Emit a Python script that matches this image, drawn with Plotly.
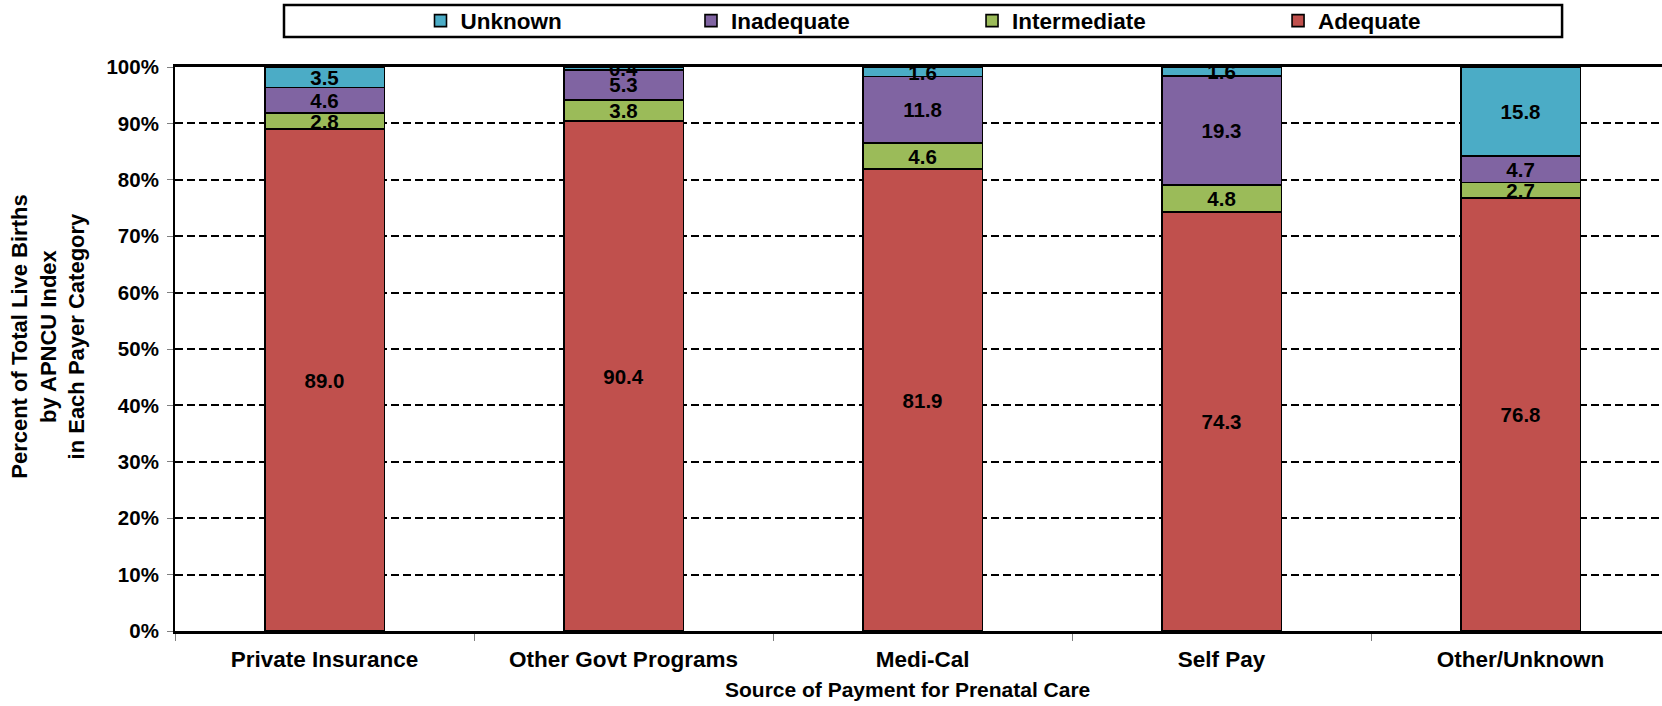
import plotly.graph_objects as go

categories = ["Private Insurance", "Other Govt Programs", "Medi-Cal", "Self Pay", "Other/Unknown"]
adequate = [89.0, 90.4, 81.9, 74.3, 76.8]
intermediate = [2.8, 3.8, 4.6, 4.8, 2.7]
inadequate = [4.6, 5.3, 11.8, 19.3, 4.7]
unknown = [3.5, 0.4, 1.6, 1.6, 15.8]

series = [
    ("Adequate", adequate, "#C0504D", "legend4"),
    ("Intermediate", intermediate, "#9BBB59", "legend3"),
    ("Inadequate", inadequate, "#8064A2", "legend2"),
    ("Unknown", unknown, "#4BACC6", "legend"),
]

FONT = "Liberation Sans, Arial, sans-serif"

fig = go.Figure()
for name, vals, color, lg in series:
    fig.add_trace(go.Bar(
        x=categories, y=vals, name=name,
        marker=dict(color=color, line=dict(color="black", width=1.6)),
        text=[f"{v:.1f}" for v in vals],
        textposition="inside", insidetextanchor="middle", textangle=0,
        constraintext="none",
        textfont=dict(family=FONT, size=20.5, color="black", weight="bold"),
        legend=lg, showlegend=True,
    ))

legend_common = dict(orientation="h", yanchor="middle", y=1.0815, xanchor="left",
                     bgcolor="rgba(0,0,0,0)", borderwidth=0,
                     font=dict(family=FONT, size=22.5, color="black", weight="bold"))
leg_x = [0.1651, 0.3470, 0.5360, 0.7418]

fig.update_layout(
    width=1662, height=706,
    margin=dict(l=175, r=0, t=67, b=75, autoexpand=False),
    plot_bgcolor="white", paper_bgcolor="white",
    barmode="stack", bargap=0.6,
    showlegend=True,
    uniformtext=dict(minsize=20, mode="show"),
    font=dict(family=FONT, color="black"),
    legend=dict(x=leg_x[0], **legend_common),
    legend2=dict(x=leg_x[1], **legend_common),
    legend3=dict(x=leg_x[2], **legend_common),
    legend4=dict(x=leg_x[3], **legend_common),
    xaxis=dict(
        type="category", range=[-0.5, 4.473],
        showline=True, linecolor="black", linewidth=2.5, mirror=True,
        ticks="outside", tickson="boundaries", ticklen=7, tickcolor="#808080", tickwidth=1,
        ticklabelstandoff=6,
        tickfont=dict(family=FONT, size=22.5, color="black", weight="bold"),
        showgrid=False,
    ),
    yaxis=dict(
        range=[0, 100], dtick=10, ticksuffix="%",
        showline=True, linecolor="black", linewidth=2,
        ticks="outside", ticklen=6, tickcolor="#808080", tickwidth=1,
        ticklabelstandoff=4,
        tickfont=dict(family=FONT, size=20.5, color="black", weight="bold"),
        showgrid=True, gridcolor="black", gridwidth=2, griddash="8px,4px",
        zeroline=False,
    ),
    annotations=[
        dict(
            text="Percent of Total Live Births<br>by APNCU Index<br>in Each Payer Category",
            xref="paper", yref="paper", x=-0.0854, y=0.5217,
            xanchor="center", yanchor="middle", textangle=-90, showarrow=False,
            font=dict(family=FONT, size=22, color="black", weight="bold"),
        ),
        dict(
            text="Source of Payment for Prenatal Care",
            xref="paper", yref="paper", x=0.4923, y=-0.1036,
            xanchor="center", yanchor="middle", showarrow=False,
            font=dict(family=FONT, size=21, color="black", weight="bold"),
        ),
    ],
    shapes=[dict(type="rect", xref="paper", yref="paper",
                 x0=0.0733, x1=0.9328, y0=1.0531, y1=1.1098,
                 line=dict(color="black", width=2.5), fillcolor="rgba(0,0,0,0)")],
)

fig.write_html("out.html", config={"displayModeBar": False},
               post_script="document.body.style.margin='0';")
